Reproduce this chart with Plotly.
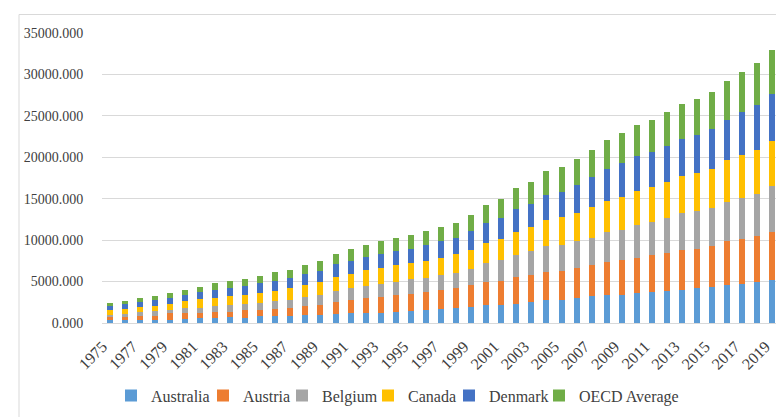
import plotly.graph_objects as go

years = list(range(1975, 2020))

australia = [320, 320, 320, 400, 400, 480, 600, 600, 670, 650,
             790, 830, 870, 910, 990, 1070, 1150, 1150, 1260, 1340,
             1500, 1600, 1690, 1840, 1920, 2120, 2200, 2350, 2510, 2780,
             2780, 3060, 3290, 3370, 3370, 3570, 3760, 3840, 4040, 4200,
             4390, 4550, 4750, 4940, 5130]
austria = [360, 400, 520, 480, 750, 670, 560, 670, 710, 870,
           790, 830, 990, 1110, 1150, 1460, 1580, 1820, 1900, 2090,
           2030, 2160, 2270, 2430, 2630, 2820, 2900, 3220, 3290, 3370,
           3490, 3530, 3690, 3960, 4200, 4270, 4390, 4590, 4780, 4780,
           4940, 5290, 5330, 5530, 5910]
belgium = [320, 360, 440, 600, 440, 630, 670, 790, 750, 750,
           870, 990, 950, 1150, 1300, 1380, 1460, 1540, 1540, 1540,
           1770, 1700, 1840, 1800, 1960, 2310, 2470, 2670, 2900, 3140,
           3180, 3290, 3290, 3650, 3650, 3960, 4040, 4240, 4430, 4590,
           4590, 4780, 5020, 5100, 5460]
canada = [520, 600, 600, 600, 750, 870, 1030, 990, 1110, 1150,
          1230, 1260, 1380, 1420, 1540, 1660, 1780, 1860, 1900, 2060,
          1930, 2080, 2040, 2240, 2310, 2430, 2590, 2710, 2900, 3180,
          3290, 3450, 3760, 3760, 4000, 4080, 4270, 4390, 4510, 4550,
          4710, 5060, 5180, 5370, 5420]
denmark = [480, 600, 600, 710, 710, 790, 910, 950, 1030, 1070,
           1150, 1190, 1260, 1340, 1340, 1500, 1540, 1580, 1740, 1660,
           1750, 1870, 2000, 1960, 2240, 2350, 2550, 2820, 2750, 2940,
           3060, 3330, 3650, 3880, 4080, 4270, 4200, 4270, 4430, 4590,
           4750, 4820, 5140, 5330, 5660]
oecd_avg = [360, 400, 480, 440, 600, 560, 630, 830, 790, 830,
            830, 1030, 990, 1110, 1190, 1260, 1380, 1500, 1540, 1580,
            1590, 1650, 1690, 1840, 1920, 2240, 2310, 2510, 2710, 2900,
            3020, 3140, 3250, 3490, 3610, 3730, 3880, 4080, 4200, 4350,
            4470, 4670, 4860, 5060, 5320]

series = [
    ("Australia", australia, "#5B9BD5"),
    ("Austria", austria, "#ED7D31"),
    ("Belgium", belgium, "#A5A5A5"),
    ("Canada", canada, "#FFC000"),
    ("Denmark", denmark, "#4472C4"),
    ("OECD Average", oecd_avg, "#70AD47"),
]

serif = "Liberation Serif, Times New Roman, serif"
txt_col = "#404040"

# one legend per series so the entries can sit closer together than the
# default horizontal legend allows; plot area x 94..772 -> paper x = (px-94)/678
legend_px = [103, 195, 274, 360, 441, 531]

fig = go.Figure()
layout_legends = {}
for i, (name, vals, col) in enumerate(series):
    key = "legend" if i == 0 else f"legend{i + 1}"
    fig.add_trace(go.Bar(x=years, y=vals, name=name, legend=key,
                         marker=dict(color=col, line=dict(width=0))))
    layout_legends[key] = dict(
        x=(legend_px[i] - 94) / 678, xanchor="left",
        y=-0.25, yanchor="middle", bgcolor="rgba(0,0,0,0)",
        font=dict(family=serif, size=16, color=txt_col),
    )

fig.update_layout(
    barmode="stack",
    bargap=0.6,
    width=784, height=417,
    margin=dict(l=94, r=12, t=25, b=94),
    paper_bgcolor="white", plot_bgcolor="white",
    font=dict(family=serif, size=14, color=txt_col),
    showlegend=True,
    xaxis=dict(tickmode="linear", tick0=1975, dtick=2, tickangle=-45,
               range=[1974.5, 2019.5], showgrid=False, showline=True,
               linecolor="#D9D9D9", ticks="outside", ticklen=7,
               tickcolor="rgba(0,0,0,0)", ticklabelshift=-7,
               tickfont=dict(size=16)),
    yaxis=dict(range=[0, 35000], dtick=5000, tickformat=".3f", showgrid=True,
               gridcolor="#D9D9D9", gridwidth=1, zeroline=False,
               ticks="outside", ticklen=15, tickcolor="rgba(0,0,0,0)",
               tickfont=dict(size=14)),
    **layout_legends,
)

# chart area border
fig.add_shape(type="rect", xref="paper", yref="paper",
              x0=-0.1224, x1=1.03, y0=-0.36, y1=1.0638,
              line=dict(color="#D9D9D9", width=1), layer="below")

fig.write_html("out.html")
